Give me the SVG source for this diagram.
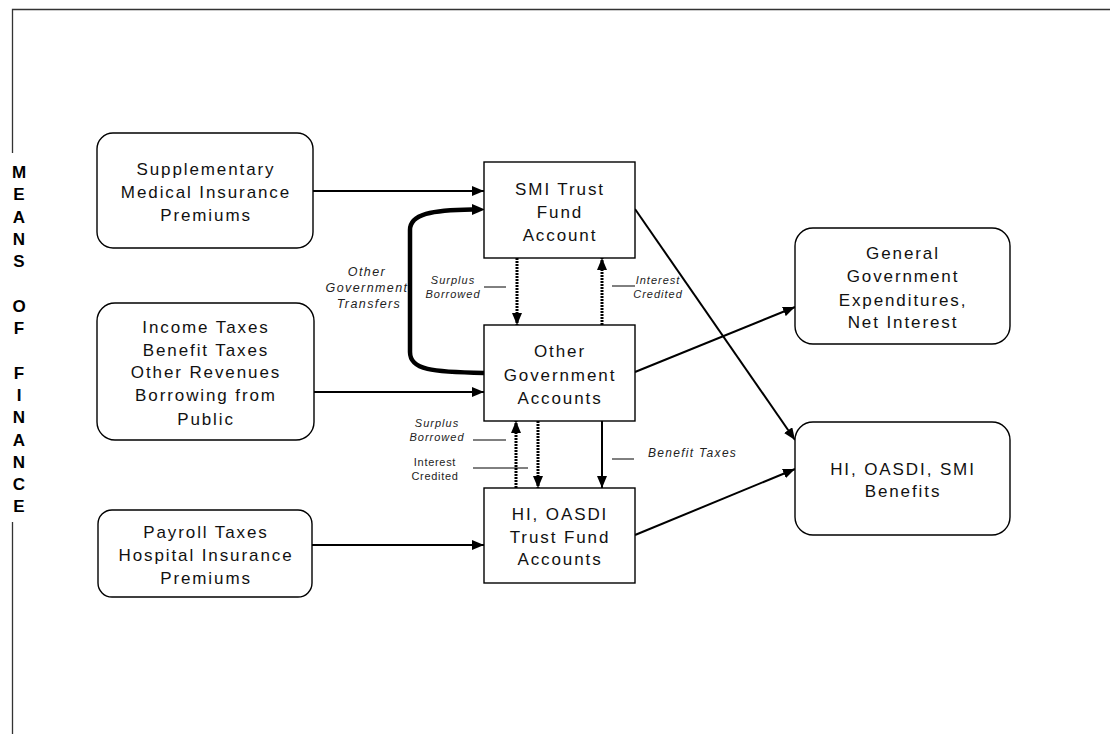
<svg xmlns="http://www.w3.org/2000/svg" width="1110" height="734" viewBox="0 0 1110 734">
<defs>
<style>
.box{fill:#fff;stroke:#000;stroke-width:1.4}
.t{font-family:"Liberation Sans",Arial,sans-serif;font-size:17px;letter-spacing:1.9px;fill:#111;text-anchor:middle}
.s{font-family:"Liberation Sans",Arial,sans-serif;font-size:11px;letter-spacing:1px;fill:#222;font-style:italic}
.sl{font-family:"Liberation Sans",Arial,sans-serif;font-size:12.5px;letter-spacing:1.4px;fill:#222;font-style:italic;text-anchor:middle}
.su{font-family:"Liberation Sans",Arial,sans-serif;font-size:11px;letter-spacing:0.7px;fill:#222}
.side{font-family:"Liberation Sans",Arial,sans-serif;font-size:17px;font-weight:bold;fill:#000;text-anchor:middle}
.ln{fill:none;stroke:#000;stroke-width:2}
.dot{fill:none;stroke:#000;stroke-width:3;stroke-dasharray:2 1}
.thick{fill:none;stroke:#000;stroke-width:4.5}
.tick{fill:none;stroke:#000;stroke-width:1}
.frame{fill:none;stroke:#333;stroke-width:1.3}
</style>
<marker id="ah" markerUnits="userSpaceOnUse" markerWidth="13" markerHeight="10" refX="12" refY="5" orient="auto">
<path d="M0,0 L12,5 L0,10 z" fill="#000"/>
</marker>
</defs>
<rect width="1110" height="734" fill="#fff"/>

<g id="frame">
<path class="frame" d="M12.5,734 V522 M12.5,153 V9.5 H1110"/>
<text class="side" x="19" y="178">M</text>
<text class="side" x="19" y="200">E</text>
<text class="side" x="19" y="223">A</text>
<text class="side" x="19" y="245">N</text>
<text class="side" x="19" y="267">S</text>
<text class="side" x="19" y="312">O</text>
<text class="side" x="19" y="334">F</text>
<text class="side" x="19" y="379">F</text>
<text class="side" x="19" y="401">I</text>
<text class="side" x="19" y="423">N</text>
<text class="side" x="19" y="446">A</text>
<text class="side" x="19" y="468">N</text>
<text class="side" x="19" y="490">C</text>
<text class="side" x="19" y="512">E</text>
</g>

<g id="connectors">
<path class="ln" d="M313,191 H484" marker-end="url(#ah)"/>
<path class="ln" d="M314,392 H484" marker-end="url(#ah)"/>
<path class="ln" d="M312,545 H484" marker-end="url(#ah)"/>
<path class="thick" d="M484,373 C432,372 410,370 410,352 L410,230 C410,214 432,210 472,209.5"/>
<path d="M472,204 L485,209.5 L472,215 z" fill="#000"/>
<path class="dot" d="M517,258 V325" marker-end="url(#ah)"/>
<path class="dot" d="M602,325 V258" marker-end="url(#ah)"/>
<path class="dot" d="M538,421 V488" marker-end="url(#ah)"/>
<path class="dot" d="M516,488 V421" marker-end="url(#ah)"/>
<path class="ln" d="M602,421 V488" marker-end="url(#ah)"/>
<path class="ln" d="M635,209 L795,440" marker-end="url(#ah)"/>
<path class="ln" d="M635,372 L795,307" marker-end="url(#ah)"/>
<path class="ln" d="M635,535 L795,469" marker-end="url(#ah)"/>
<path class="tick" d="M484,287 H506 M612,286 H635 M473,440 H506 M473,468 H528 M612,459 H634"/>
<text class="sl" x="367" y="276">Other</text>
<text class="sl" x="367" y="292">Government</text>
<text class="sl" x="369" y="308">Transfers</text>
<text class="s" text-anchor="middle" x="453" y="284">Surplus</text>
<text class="s" text-anchor="middle" x="453" y="298">Borrowed</text>
<text class="s" text-anchor="middle" x="658" y="284">Interest</text>
<text class="s" text-anchor="middle" x="658" y="298">Credited</text>
<text class="s" text-anchor="middle" x="437" y="427">Surplus</text>
<text class="s" text-anchor="middle" x="437" y="441">Borrowed</text>
<text class="su" text-anchor="middle" x="435" y="466">Interest</text>
<text class="su" text-anchor="middle" x="435" y="480">Credited</text>
<text class="s" x="648" y="457" style="font-size:12px;letter-spacing:1.3px">Benefit Taxes</text>
</g>

<g id="smi-premiums">
<rect class="box" x="97" y="133" width="216" height="115" rx="16"/>
<text class="t" x="206" y="175">Supplementary</text>
<text class="t" x="206" y="198">Medical Insurance</text>
<text class="t" x="206" y="221">Premiums</text>
</g>

<g id="income-taxes">
<rect class="box" x="97" y="303" width="217" height="137" rx="18"/>
<text class="t" x="206" y="333">Income Taxes</text>
<text class="t" x="206" y="356">Benefit Taxes</text>
<text class="t" x="206" y="378">Other Revenues</text>
<text class="t" x="206" y="401">Borrowing from</text>
<text class="t" x="206" y="425">Public</text>
</g>

<g id="payroll-taxes">
<rect class="box" x="98" y="510" width="214" height="87" rx="14"/>
<text class="t" x="206" y="538">Payroll Taxes</text>
<text class="t" x="206" y="561">Hospital Insurance</text>
<text class="t" x="206" y="584">Premiums</text>
</g>

<g id="smi-trust">
<rect class="box" x="484" y="162" width="151" height="96"/>
<text class="t" x="560" y="195">SMI Trust</text>
<text class="t" x="560" y="218">Fund</text>
<text class="t" x="560" y="241">Account</text>
</g>

<g id="other-gov">
<rect class="box" x="484" y="325" width="151" height="96"/>
<text class="t" x="560" y="357">Other</text>
<text class="t" x="560" y="381">Government</text>
<text class="t" x="560" y="404">Accounts</text>
</g>

<g id="hi-oasdi">
<rect class="box" x="484" y="488" width="151" height="95"/>
<text class="t" x="560" y="520">HI, OASDI</text>
<text class="t" x="560" y="543">Trust Fund</text>
<text class="t" x="560" y="565">Accounts</text>
</g>

<g id="general-gov">
<rect class="box" x="795" y="228" width="215" height="116" rx="18"/>
<text class="t" x="903" y="259">General</text>
<text class="t" x="903" y="282">Government</text>
<text class="t" x="903" y="306">Expenditures,</text>
<text class="t" x="903" y="328">Net Interest</text>
</g>

<g id="benefits">
<rect class="box" x="795" y="422" width="215" height="113" rx="18"/>
<text class="t" x="903" y="475">HI, OASDI, SMI</text>
<text class="t" x="903" y="497">Benefits</text>
</g>
</svg>
